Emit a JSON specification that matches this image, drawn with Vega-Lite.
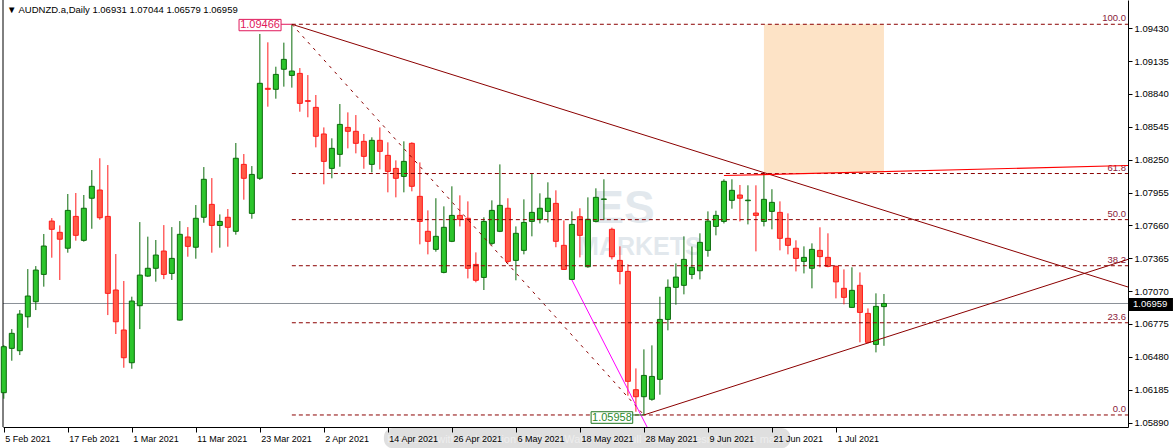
{
  "$schema": "https://vega.github.io/schema/vega-lite/v6.json",
  "width": 1125,
  "height": 427,
  "autosize": "none",
  "padding": {"left": 3, "top": 0, "right": 47, "bottom": 21},
  "background": "#ffffff",
  "title": {"text": "▼  AUDNZD.a,Daily  1.06931 1.07044 1.06579 1.06959", "anchor": "start", "frame": "group", "orient": "top", "offset": -15, "dx": 4, "fontSize": 9.5, "fontWeight": "normal", "font": "Liberation Sans", "color": "#000000"},
  "config": {"view": {"stroke": null}, "font": "Liberation Sans"},
  "resolve": {"axis": {"x": "independent", "y": "independent"}},
  "datasets": {
    "one": [{}],
    "candles": [
      {"i":0,"o":1.06158,"h":1.06586,"l":1.06104,"c":1.06571},
      {"i":1,"o":1.06556,"h":1.06729,"l":1.06445,"c":1.06691},
      {"i":2,"o":1.06535,"h":1.06900,"l":1.06496,"c":1.06864},
      {"i":3,"o":1.06840,"h":1.07268,"l":1.06741,"c":1.07026},
      {"i":4,"o":1.06975,"h":1.07295,"l":1.06900,"c":1.07259},
      {"i":5,"o":1.07220,"h":1.07583,"l":1.07110,"c":1.07475},
      {"i":6,"o":1.07699,"h":1.07726,"l":1.07370,"c":1.07625},
      {"i":7,"o":1.07598,"h":1.07660,"l":1.07170,"c":1.07536},
      {"i":8,"o":1.07455,"h":1.07942,"l":1.07415,"c":1.07795},
      {"i":9,"o":1.07741,"h":1.07951,"l":1.07523,"c":1.07571},
      {"i":10,"o":1.07526,"h":1.07933,"l":1.07514,"c":1.07814},
      {"i":11,"o":1.07904,"h":1.08157,"l":1.07630,"c":1.08011},
      {"i":12,"o":1.07978,"h":1.08263,"l":1.07711,"c":1.07729},
      {"i":13,"o":1.07741,"h":1.08202,"l":1.06855,"c":1.07050},
      {"i":14,"o":1.07080,"h":1.07403,"l":1.06685,"c":1.06795},
      {"i":15,"o":1.06721,"h":1.07161,"l":1.06382,"c":1.06472},
      {"i":16,"o":1.06427,"h":1.07020,"l":1.06373,"c":1.06981},
      {"i":17,"o":1.06939,"h":1.07690,"l":1.06729,"c":1.07214},
      {"i":18,"o":1.07205,"h":1.07559,"l":1.07199,"c":1.07275},
      {"i":19,"o":1.07275,"h":1.07529,"l":1.07155,"c":1.07394},
      {"i":20,"o":1.07430,"h":1.07663,"l":1.07178,"c":1.07220},
      {"i":21,"o":1.07229,"h":1.07645,"l":1.07170,"c":1.07364},
      {"i":22,"o":1.06810,"h":1.07699,"l":1.06806,"c":1.07580},
      {"i":23,"o":1.07556,"h":1.07645,"l":1.07379,"c":1.07472},
      {"i":24,"o":1.07464,"h":1.07843,"l":1.07361,"c":1.07724},
      {"i":25,"o":1.07733,"h":1.08184,"l":1.07684,"c":1.08074},
      {"i":26,"o":1.07849,"h":1.08085,"l":1.07415,"c":1.07660},
      {"i":27,"o":1.07660,"h":1.07759,"l":1.07460,"c":1.07696},
      {"i":28,"o":1.07733,"h":1.07807,"l":1.07469,"c":1.07643},
      {"i":29,"o":1.07607,"h":1.08400,"l":1.07577,"c":1.08263},
      {"i":30,"o":1.08208,"h":1.08301,"l":1.07891,"c":1.08083},
      {"i":31,"o":1.07768,"h":1.08193,"l":1.07720,"c":1.08118},
      {"i":32,"o":1.08083,"h":1.09379,"l":1.08068,"c":1.08936},
      {"i":33,"o":1.08891,"h":1.09304,"l":1.08726,"c":1.08882},
      {"i":34,"o":1.08882,"h":1.09085,"l":1.08798,"c":1.09016},
      {"i":35,"o":1.09062,"h":1.09301,"l":1.08906,"c":1.09151},
      {"i":36,"o":1.09007,"h":1.09466,"l":1.08897,"c":1.09046},
      {"i":37,"o":1.09025,"h":1.09073,"l":1.08681,"c":1.08756},
      {"i":38,"o":1.08780,"h":1.09010,"l":1.08631,"c":1.08774},
      {"i":39,"o":1.08720,"h":1.08831,"l":1.08361,"c":1.08460},
      {"i":40,"o":1.08481,"h":1.08540,"l":1.08029,"c":1.08235},
      {"i":41,"o":1.08172,"h":1.08442,"l":1.08083,"c":1.08352},
      {"i":42,"o":1.08298,"h":1.08750,"l":1.08187,"c":1.08567},
      {"i":43,"o":1.08540,"h":1.08675,"l":1.08352,"c":1.08505},
      {"i":44,"o":1.08505,"h":1.08651,"l":1.08307,"c":1.08397},
      {"i":45,"o":1.08415,"h":1.08481,"l":1.08169,"c":1.08280},
      {"i":46,"o":1.08208,"h":1.08451,"l":1.08136,"c":1.08424},
      {"i":47,"o":1.08424,"h":1.08540,"l":1.08163,"c":1.08325},
      {"i":48,"o":1.08289,"h":1.08406,"l":1.07957,"c":1.08145},
      {"i":49,"o":1.08172,"h":1.08244,"l":1.07912,"c":1.08083},
      {"i":50,"o":1.08100,"h":1.08415,"l":1.07957,"c":1.08235},
      {"i":51,"o":1.08397,"h":1.08406,"l":1.07966,"c":1.08011},
      {"i":52,"o":1.07921,"h":1.08226,"l":1.07490,"c":1.07696},
      {"i":53,"o":1.07607,"h":1.07795,"l":1.07400,"c":1.07517},
      {"i":54,"o":1.07445,"h":1.07904,"l":1.07424,"c":1.07562},
      {"i":55,"o":1.07238,"h":1.07831,"l":1.07230,"c":1.07643},
      {"i":56,"o":1.07517,"h":1.08011,"l":1.07510,"c":1.07750},
      {"i":57,"o":1.07750,"h":1.07930,"l":1.07651,"c":1.07715},
      {"i":58,"o":1.07724,"h":1.07876,"l":1.07184,"c":1.07275},
      {"i":59,"o":1.07310,"h":1.07418,"l":1.07149,"c":1.07167},
      {"i":60,"o":1.07193,"h":1.07733,"l":1.07080,"c":1.07696},
      {"i":61,"o":1.07499,"h":1.07885,"l":1.07481,"c":1.07795},
      {"i":62,"o":1.07607,"h":1.08208,"l":1.07600,"c":1.07840},
      {"i":63,"o":1.07814,"h":1.07904,"l":1.07319,"c":1.07337},
      {"i":64,"o":1.07346,"h":1.07651,"l":1.07167,"c":1.07589},
      {"i":65,"o":1.07436,"h":1.07894,"l":1.07400,"c":1.07687},
      {"i":66,"o":1.07696,"h":1.08127,"l":1.07562,"c":1.07777},
      {"i":67,"o":1.07715,"h":1.07948,"l":1.07678,"c":1.07814},
      {"i":68,"o":1.07786,"h":1.08047,"l":1.07687,"c":1.07904},
      {"i":69,"o":1.07858,"h":1.07975,"l":1.07464,"c":1.07517},
      {"i":70,"o":1.07481,"h":1.07705,"l":1.07260,"c":1.07265},
      {"i":71,"o":1.07175,"h":1.07786,"l":1.07170,"c":1.07669},
      {"i":72,"o":1.07738,"h":1.07814,"l":1.07373,"c":1.07571},
      {"i":73,"o":1.07289,"h":1.07912,"l":1.07280,"c":1.07715},
      {"i":74,"o":1.07696,"h":1.07993,"l":1.07687,"c":1.07912},
      {"i":75,"o":1.07894,"h":1.08074,"l":1.07708,"c":1.07897},
      {"i":76,"o":1.07625,"h":1.07640,"l":1.07355,"c":1.07379},
      {"i":77,"o":1.07346,"h":1.07472,"l":1.07131,"c":1.07247},
      {"i":78,"o":1.07247,"h":1.07310,"l":1.06131,"c":1.06260},
      {"i":79,"o":1.06185,"h":1.06376,"l":1.05987,"c":1.06122},
      {"i":80,"o":1.06122,"h":1.06547,"l":1.05958,"c":1.06313},
      {"i":81,"o":1.06099,"h":1.06583,"l":1.06086,"c":1.06304},
      {"i":82,"o":1.06278,"h":1.07020,"l":1.06140,"c":1.06816},
      {"i":83,"o":1.06816,"h":1.07175,"l":1.06718,"c":1.07104},
      {"i":84,"o":1.07104,"h":1.07319,"l":1.06948,"c":1.07196},
      {"i":85,"o":1.07122,"h":1.07562,"l":1.07041,"c":1.07355},
      {"i":86,"o":1.07220,"h":1.07470,"l":1.07178,"c":1.07284},
      {"i":87,"o":1.07253,"h":1.07589,"l":1.07175,"c":1.07508},
      {"i":88,"o":1.07436,"h":1.07786,"l":1.07379,"c":1.07699},
      {"i":89,"o":1.07651,"h":1.07792,"l":1.07571,"c":1.07750},
      {"i":90,"o":1.07696,"h":1.08074,"l":1.07678,"c":1.08056},
      {"i":91,"o":1.07885,"h":1.08074,"l":1.07810,"c":1.07975},
      {"i":92,"o":1.07933,"h":1.08023,"l":1.07696,"c":1.07904},
      {"i":93,"o":1.07882,"h":1.08020,"l":1.07669,"c":1.07887},
      {"i":94,"o":1.07771,"h":1.08020,"l":1.07427,"c":1.07750},
      {"i":95,"o":1.07696,"h":1.08121,"l":1.07651,"c":1.07894},
      {"i":96,"o":1.07786,"h":1.07985,"l":1.07625,"c":1.07867},
      {"i":97,"o":1.07777,"h":1.07876,"l":1.07436,"c":1.07544},
      {"i":98,"o":1.07544,"h":1.07768,"l":1.07400,"c":1.07481},
      {"i":99,"o":1.07455,"h":1.07526,"l":1.07247,"c":1.07364},
      {"i":100,"o":1.07337,"h":1.07472,"l":1.07229,"c":1.07373},
      {"i":101,"o":1.07275,"h":1.07499,"l":1.07095,"c":1.07445},
      {"i":102,"o":1.07436,"h":1.07643,"l":1.07284,"c":1.07380},
      {"i":103,"o":1.07373,"h":1.07589,"l":1.07284,"c":1.07292},
      {"i":104,"o":1.07292,"h":1.07301,"l":1.07005,"c":1.07153},
      {"i":105,"o":1.07095,"h":1.07265,"l":1.06951,"c":1.07014},
      {"i":106,"o":1.06924,"h":1.07284,"l":1.06920,"c":1.07077},
      {"i":107,"o":1.07122,"h":1.07238,"l":1.06610,"c":1.06879},
      {"i":108,"o":1.06870,"h":1.06915,"l":1.06601,"c":1.06610},
      {"i":109,"o":1.06592,"h":1.07050,"l":1.06520,"c":1.06933},
      {"i":110,"o":1.06931,"h":1.07044,"l":1.06579,"c":1.06959}
    ],
    "fib": [
      {"level":"100.0","p":1.09466},
      {"level":"61.8","p":1.08126},
      {"level":"50.0","p":1.07712},
      {"level":"38.2","p":1.07298},
      {"level":"23.6","p":1.06786},
      {"level":"0.0","p":1.05958}
    ],
    "lines": [
      {"name":"diag","i":36,"p":1.09466},
      {"name":"diag","i":80,"p":1.05958},
      {"name":"upper","i":36,"p":1.09466},
      {"name":"upper","i":140.5,"p":1.07107},
      {"name":"lower","i":80,"p":1.05958},
      {"name":"lower","i":140.5,"p":1.07355},
      {"name":"red","i":90,"p":1.08108},
      {"name":"red","i":140.5,"p":1.08198},
      {"name":"magenta","i":71,"p":1.07170},
      {"name":"magenta","i":81,"p":1.05765}
    ]
  },
  "layer": [
    {
      "data": {"name": "one"},
      "mark": {"type": "rect", "fill": "#fde3c6"},
      "encoding": {
        "x": {"datum": 95, "type": "quantitative", "scale": {"domain": [-0.1, 140.5], "nice": false, "zero": false, "padding": 0},
          "axis": {"orient": "bottom", "title": null, "grid": false, "zindex": 1, "values": [0, 8, 16, 24, 32, 40, 48, 56, 64, 72, 80, 88, 96, 104],
            "labelExpr": "['5 Feb 2021','17 Feb 2021','1 Mar 2021','11 Mar 2021','23 Mar 2021','2 Apr 2021','14 Apr 2021','26 Apr 2021','6 May 2021','18 May 2021','28 May 2021','9 Jun 2021','21 Jun 2021','1 Jul 2021'][round(datum.value/8)]",
            "domainColor": "#000000", "tickColor": "#000000", "tickSize": 5, "labelAlign": "left", "labelBaseline": "top", "labelPadding": 2, "labelOffset": 1,
            "labelFontSize": 9, "labelFont": "Liberation Sans", "labelColor": "#000000", "labelOverlap": false, "labelFlush": false, "labelBound": false}},
        "x2": {"datum": 110},
        "y": {"datum": 1.09466, "type": "quantitative", "scale": {"domain": [1.0585, 1.09684], "nice": false, "zero": false, "padding": 0},
          "axis": {"orient": "right", "title": null, "grid": false, "values": [1.0943, 1.09135, 1.0884, 1.08545, 1.0825, 1.07955, 1.0766, 1.07365, 1.0707, 1.06775, 1.0648, 1.06185, 1.0589],
            "format": ".5f", "domainColor": "#000000", "tickColor": "#000000", "tickSize": 4, "labelPadding": 2,
            "labelFontSize": 9.5, "labelFont": "Liberation Sans", "labelColor": "#000000", "labelOverlap": false, "labelFlush": false, "labelBound": false}},
        "y2": {"datum": 1.0813}
      }
    },
    {
      "data": {"name": "one"},
      "mark": {"type": "text", "font": "Liberation Sans", "fontWeight": "bold", "fontSize": 46, "fill": "#b8c8d4", "opacity": 0.4, "align": "center", "baseline": "middle"},
      "encoding": {
        "x": {"datum": 77.5, "type": "quantitative", "scale": {"domain": [-0.1, 140.5], "nice": false, "zero": false, "padding": 0}, "axis": null},
        "y": {"datum": 1.07810, "type": "quantitative", "scale": {"domain": [1.0585, 1.09684], "nice": false, "zero": false, "padding": 0}, "axis": null},
        "text": {"value": "ES"}
      }
    },
    {
      "data": {"name": "one"},
      "mark": {"type": "text", "font": "Liberation Sans", "fontWeight": "bold", "fontSize": 25, "fill": "#b8c8d4", "opacity": 0.4, "align": "center", "baseline": "middle"},
      "encoding": {
        "x": {"datum": 79.5, "type": "quantitative", "scale": {"domain": [-0.1, 140.5], "nice": false, "zero": false, "padding": 0}, "axis": null},
        "y": {"datum": 1.07470, "type": "quantitative", "scale": {"domain": [1.0585, 1.09684], "nice": false, "zero": false, "padding": 0}, "axis": null},
        "text": {"value": "MARKETS"}
      }
    },
    {
      "data": {"name": "one"},
      "mark": {"type": "rule", "color": "#8a9097", "strokeWidth": 1},
      "encoding": {
        "y": {"datum": 1.06959, "type": "quantitative", "scale": {"domain": [1.0585, 1.09684], "nice": false, "zero": false, "padding": 0}, "axis": null}
      }
    },
    {
      "data": {"name": "one"},
      "mark": {"type": "rule", "color": "#000000", "strokeWidth": 1},
      "encoding": {
        "x": {"datum": -0.1, "type": "quantitative", "scale": {"domain": [-0.1, 140.5], "nice": false, "zero": false, "padding": 0}, "axis": null}
      }
    },
    {
      "data": {"name": "candles"},
      "mark": {"type": "rule", "strokeWidth": 1},
      "encoding": {
        "x": {"field": "i", "type": "quantitative", "scale": {"domain": [-0.1, 140.5], "nice": false, "zero": false, "padding": 0}, "axis": null},
        "y": {"field": "l", "type": "quantitative", "scale": {"domain": [1.0585, 1.09684], "nice": false, "zero": false, "padding": 0}, "axis": null},
        "y2": {"field": "h"},
        "color": {"condition": {"test": "datum.c >= datum.o", "value": "#0b6b0b"}, "value": "#ff1a1a"}
      }
    },
    {
      "data": {"name": "candles"},
      "mark": {"type": "bar", "size": 5, "strokeWidth": 1},
      "encoding": {
        "x": {"field": "i", "type": "quantitative", "scale": {"domain": [-0.1, 140.5], "nice": false, "zero": false, "padding": 0}, "axis": null},
        "y": {"field": "o", "type": "quantitative", "scale": {"domain": [1.0585, 1.09684], "nice": false, "zero": false, "padding": 0}, "axis": null},
        "y2": {"field": "c"},
        "fill": {"condition": {"test": "datum.c >= datum.o", "value": "#2cc52c"}, "value": "#ff5b47"},
        "stroke": {"condition": {"test": "datum.c >= datum.o", "value": "#0b6b0b"}, "value": "#ff1a1a"}
      }
    },
    {
      "data": {"name": "fib"},
      "mark": {"type": "rule", "color": "#8b0000", "strokeWidth": 1, "strokeDash": [4, 3]},
      "encoding": {
        "x": {"datum": 36, "type": "quantitative", "scale": {"domain": [-0.1, 140.5], "nice": false, "zero": false, "padding": 0}, "axis": null},
        "x2": {"datum": 140.5},
        "y": {"field": "p", "type": "quantitative", "scale": {"domain": [1.0585, 1.09684], "nice": false, "zero": false, "padding": 0}, "axis": null}
      }
    },
    {
      "data": {"name": "fib"},
      "mark": {"type": "text", "color": "#8b1a3a", "fontSize": 9.5, "font": "Liberation Sans", "align": "right", "baseline": "bottom", "dx": -2, "dy": -1},
      "encoding": {
        "x": {"datum": 140.5, "type": "quantitative", "scale": {"domain": [-0.1, 140.5], "nice": false, "zero": false, "padding": 0}, "axis": null},
        "y": {"field": "p", "type": "quantitative", "scale": {"domain": [1.0585, 1.09684], "nice": false, "zero": false, "padding": 0}, "axis": null},
        "text": {"field": "level"}
      }
    },
    {
      "data": {"name": "lines"},
      "transform": [{"filter": "datum.name === 'diag'"}],
      "mark": {"type": "line", "color": "#8b0000", "strokeWidth": 1, "strokeDash": [3, 5], "clip": true},
      "encoding": {
        "x": {"field": "i", "type": "quantitative", "scale": {"domain": [-0.1, 140.5], "nice": false, "zero": false, "padding": 0}, "axis": null},
        "y": {"field": "p", "type": "quantitative", "scale": {"domain": [1.0585, 1.09684], "nice": false, "zero": false, "padding": 0}, "axis": null}
      }
    },
    {
      "data": {"name": "lines"},
      "transform": [{"filter": "datum.name === 'upper' || datum.name === 'lower'"}],
      "mark": {"type": "line", "color": "#8b0000", "strokeWidth": 1, "clip": true},
      "encoding": {
        "x": {"field": "i", "type": "quantitative", "scale": {"domain": [-0.1, 140.5], "nice": false, "zero": false, "padding": 0}, "axis": null},
        "y": {"field": "p", "type": "quantitative", "scale": {"domain": [1.0585, 1.09684], "nice": false, "zero": false, "padding": 0}, "axis": null},
        "detail": {"field": "name"}
      }
    },
    {
      "data": {"name": "lines"},
      "transform": [{"filter": "datum.name === 'red'"}],
      "mark": {"type": "line", "color": "#ff0000", "strokeWidth": 1.2, "clip": true},
      "encoding": {
        "x": {"field": "i", "type": "quantitative", "scale": {"domain": [-0.1, 140.5], "nice": false, "zero": false, "padding": 0}, "axis": null},
        "y": {"field": "p", "type": "quantitative", "scale": {"domain": [1.0585, 1.09684], "nice": false, "zero": false, "padding": 0}, "axis": null}
      }
    },
    {
      "data": {"name": "lines"},
      "transform": [{"filter": "datum.name === 'magenta'"}],
      "mark": {"type": "line", "color": "#ff00ff", "strokeWidth": 1, "clip": true},
      "encoding": {
        "x": {"field": "i", "type": "quantitative", "scale": {"domain": [-0.1, 140.5], "nice": false, "zero": false, "padding": 0}, "axis": null},
        "y": {"field": "p", "type": "quantitative", "scale": {"domain": [1.0585, 1.09684], "nice": false, "zero": false, "padding": 0}, "axis": null}
      }
    },
    {
      "data": {"name": "one"},
      "mark": {"type": "rule", "color": "#e0185b", "strokeWidth": 1},
      "encoding": {
        "x": {"datum": 34.65, "type": "quantitative", "scale": {"domain": [-0.1, 140.5], "nice": false, "zero": false, "padding": 0}, "axis": null},
        "x2": {"datum": 36},
        "y": {"datum": 1.09466, "type": "quantitative", "scale": {"domain": [1.0585, 1.09684], "nice": false, "zero": false, "padding": 0}, "axis": null}
      }
    },
    {
      "data": {"name": "one"},
      "mark": {"type": "rect", "fill": "#ffffff", "stroke": "#e0185b", "strokeWidth": 1},
      "encoding": {
        "x": {"datum": 29.4, "type": "quantitative", "scale": {"domain": [-0.1, 140.5], "nice": false, "zero": false, "padding": 0}, "axis": null},
        "x2": {"datum": 34.65},
        "y": {"datum": 1.09510, "type": "quantitative", "scale": {"domain": [1.0585, 1.09684], "nice": false, "zero": false, "padding": 0}, "axis": null},
        "y2": {"datum": 1.09408}
      }
    },
    {
      "data": {"name": "one"},
      "mark": {"type": "text", "color": "#e0185b", "fontSize": 11, "font": "Liberation Sans", "align": "center", "baseline": "middle"},
      "encoding": {
        "x": {"datum": 32.02, "type": "quantitative", "scale": {"domain": [-0.1, 140.5], "nice": false, "zero": false, "padding": 0}, "axis": null},
        "y": {"datum": 1.09459, "type": "quantitative", "scale": {"domain": [1.0585, 1.09684], "nice": false, "zero": false, "padding": 0}, "axis": null},
        "text": {"value": "1.09466"}
      }
    },
    {
      "data": {"name": "one"},
      "mark": {"type": "rule", "color": "#217821", "strokeWidth": 1},
      "encoding": {
        "x": {"datum": 78.6, "type": "quantitative", "scale": {"domain": [-0.1, 140.5], "nice": false, "zero": false, "padding": 0}, "axis": null},
        "x2": {"datum": 80},
        "y": {"datum": 1.05958, "type": "quantitative", "scale": {"domain": [1.0585, 1.09684], "nice": false, "zero": false, "padding": 0}, "axis": null}
      }
    },
    {
      "data": {"name": "one"},
      "mark": {"type": "rect", "fill": "#ffffff", "stroke": "#217821", "strokeWidth": 1},
      "encoding": {
        "x": {"datum": 73.4, "type": "quantitative", "scale": {"domain": [-0.1, 140.5], "nice": false, "zero": false, "padding": 0}, "axis": null},
        "x2": {"datum": 78.6},
        "y": {"datum": 1.05987, "type": "quantitative", "scale": {"domain": [1.0585, 1.09684], "nice": false, "zero": false, "padding": 0}, "axis": null},
        "y2": {"datum": 1.05883}
      }
    },
    {
      "data": {"name": "one"},
      "mark": {"type": "text", "color": "#2b8a2b", "fontSize": 11, "font": "Liberation Sans", "align": "center", "baseline": "middle"},
      "encoding": {
        "x": {"datum": 76.0, "type": "quantitative", "scale": {"domain": [-0.1, 140.5], "nice": false, "zero": false, "padding": 0}, "axis": null},
        "y": {"datum": 1.05935, "type": "quantitative", "scale": {"domain": [1.0585, 1.09684], "nice": false, "zero": false, "padding": 0}, "axis": null},
        "text": {"value": "1.05958"}
      }
    },
    {
      "data": {"name": "one"},
      "mark": {"type": "rect", "fill": "#000000"},
      "encoding": {
        "x": {"datum": 140.62, "type": "quantitative", "scale": {"domain": [-0.1, 140.5], "nice": false, "zero": false, "padding": 0}, "axis": null},
        "x2": {"datum": 146.12},
        "y": {"datum": 1.07008, "type": "quantitative", "scale": {"domain": [1.0585, 1.09684], "nice": false, "zero": false, "padding": 0}, "axis": null},
        "y2": {"datum": 1.06891}
      }
    },
    {
      "data": {"name": "one"},
      "mark": {"type": "text", "color": "#ffffff", "fontSize": 9.5, "font": "Liberation Sans", "align": "left", "baseline": "middle", "dx": 4},
      "encoding": {
        "x": {"datum": 140.62, "type": "quantitative", "scale": {"domain": [-0.1, 140.5], "nice": false, "zero": false, "padding": 0}, "axis": null},
        "y": {"datum": 1.06952, "type": "quantitative", "scale": {"domain": [1.0585, 1.09684], "nice": false, "zero": false, "padding": 0}, "axis": null},
        "text": {"value": "1.06959"}
      }
    },
    {
      "data": {"name": "one"},
      "mark": {"type": "rect", "fill": "#b8b8b8", "opacity": 0.45, "cornerRadius": 9},
      "encoding": {
        "x": {"datum": 47.5, "type": "quantitative", "scale": {"domain": [-0.1, 140.5], "nice": false, "zero": false, "padding": 0}, "axis": null},
        "x2": {"datum": 98.3},
        "y": {"datum": 1.05841, "type": "quantitative", "scale": {"domain": [1.0585, 1.09684], "nice": false, "zero": false, "padding": 0}, "axis": null},
        "y2": {"datum": 1.05660}
      }
    },
    {
      "data": {"name": "one"},
      "mark": {"type": "text", "color": "#f2f2f2", "opacity": 0.8, "fontSize": 11, "font": "Liberation Sans", "align": "center", "baseline": "middle"},
      "encoding": {
        "x": {"datum": 72.9, "type": "quantitative", "scale": {"domain": [-0.1, 140.5], "nice": false, "zero": false, "padding": 0}, "axis": null},
        "y": {"datum": 1.05730, "type": "quantitative", "scale": {"domain": [1.0585, 1.09684], "nice": false, "zero": false, "padding": 0}, "axis": null},
        "text": {"value": "Protected with trial version of Visual Watermark. Full version doesn't put this mark."}
      }
    }
  ]
}
